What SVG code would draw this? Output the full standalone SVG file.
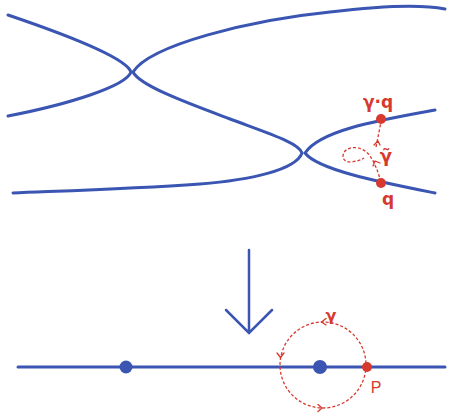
<svg xmlns="http://www.w3.org/2000/svg" width="450" height="415" viewBox="0 0 450 415">
<style>
.b{fill:none;stroke:#3a55b2;stroke-width:3;stroke-linecap:round}
.r{fill:none;stroke:#d8392e;stroke-width:1.3;stroke-dasharray:3 2}
.rs{fill:none;stroke:#d8392e;stroke-width:1.3;stroke-linecap:round;stroke-linejoin:round}
.t{fill:#d8392e;font-family:"DejaVu Sans",sans-serif;font-weight:bold}
</style>
<rect width="450" height="415" fill="#fff"/>
<g id="sheets">
<path class="b" d="M8,15 C70,36 126,58 131,72 C126,86 70,104 8,116"/>
<path class="b" d="M445,9 C420,4 380,6 330,12 C250,20 150,45 133,72 C140,86 190,104 230,119 C270,134 299,143 302,153 C296,170 250,180 200,184 C130,189 60,191 13,193"/>
<path class="b" d="M435,110 C380,120 320,130 305,153 C318,170 380,182 435,193"/>
</g>
<g id="lift">
<path class="r" d="M381,182 C378,172 375,163 370,156 C364,147 351,145 345,151 C340,158 345,163 352,162 C357,161 361,160 364,158"/>
<path class="r" d="M376,147 L381,122"/>
<path class="rs" d="M373,166 L375,161 L380,163"/>
<path class="rs" d="M374,145 L378,141 L380,145"/>
<circle cx="381" cy="119" r="5" fill="#d8392e"/>
<circle cx="381" cy="183" r="5" fill="#d8392e"/>
<text class="t" x="378" y="108" font-size="17" text-anchor="middle">γ·q</text>
<text class="t" x="388" y="205" font-size="17" text-anchor="middle">q</text>
<text class="t" x="386" y="162" font-size="18" text-anchor="middle">γ̃</text>
</g>
<g id="projection">
<path class="b" d="M249,250 L249,333 M226,310 L249,333 L272,310" style="stroke-width:2.5"/>
</g>
<g id="base">
<path class="b" d="M18,367 L445,367"/>
<circle cx="126" cy="367" r="6.5" fill="#3a55b2"/>
<circle cx="320" cy="367" r="7" fill="#3a55b2"/>
<circle class="r" cx="323" cy="365" r="43"/>
<path class="rs" d="M326,318.5 L321.5,322 L326,325"/>
<path class="rs" d="M277,353 L280.5,357.5 L284,353"/>
<path class="rs" d="M318,404.5 L322,408 L318,411.5"/>
<circle cx="367" cy="367" r="5" fill="#d8392e"/>
<text class="t" x="331" y="321" font-size="16" text-anchor="middle">γ</text>
<text class="t" x="376" y="393" font-size="16" text-anchor="middle" style="font-weight:normal;font-family:'Liberation Sans',sans-serif">P</text>
</g>
</svg>
